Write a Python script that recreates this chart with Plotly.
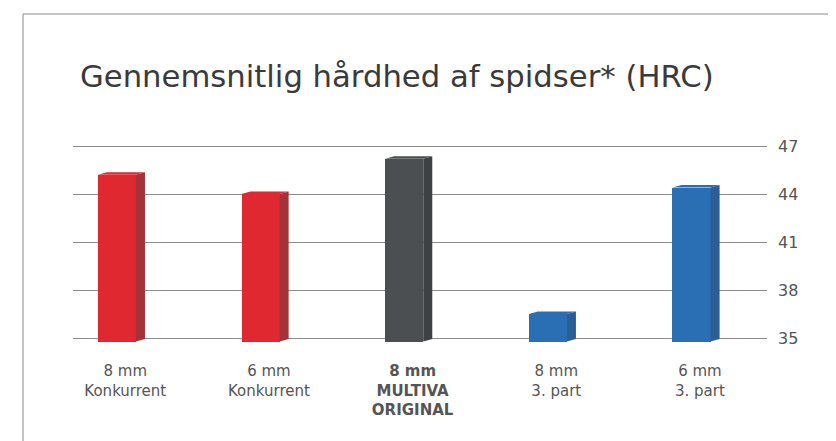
import plotly.graph_objects as go

# ---- data ----
categories = ["8 mm<br>Konkurrent", "6 mm<br>Konkurrent", "<b>8 mm<br>MULTIVA<br>ORIGINAL</b>",
              "8 mm<br>3. part", "6 mm<br>3. part"]
values = [45.2, 44.0, 46.2, 36.5, 44.4]
front_colors = ["#DF2830", "#DF2830", "#4B4F51", "#2A6EB4", "#2A6EB4"]
side_colors = ["#A4323A", "#A4323A", "#3D4143", "#2B5E95", "#2B5E95"]
y_ticks = [35, 38, 41, 44, 47]
title_text = "Gennemsnitlig hårdhed af spidser* (HRC)"

BASE = 34.78          # bars start slightly below the 35 line
FACE_W = 0.265        # front face width (category units)
FACE_SHIFT = -0.0585  # front face centre relative to category label
SIDE_W = 0.063        # 3D side depth
SIDE_RISE = 0.16      # side rises slightly (y units)

x_idx = list(range(len(categories)))

fig = go.Figure()

fig.add_trace(go.Bar(
    x=x_idx, y=[v - BASE for v in values], base=BASE,
    width=FACE_W, offset=FACE_SHIFT - FACE_W / 2,
    marker=dict(color=front_colors, line=dict(width=0)),
    hoverinfo="skip", showlegend=False,
))

for i, v in enumerate(values):
    xr = i + FACE_SHIFT + FACE_W / 2
    xl = i + FACE_SHIFT - FACE_W / 2
    fig.add_trace(go.Scatter(
        x=[xr, xr + SIDE_W, xr + SIDE_W, xr, xr],
        y=[BASE, BASE + SIDE_RISE, v + SIDE_RISE, v, BASE],
        fill="toself", fillcolor=side_colors[i], mode="lines",
        line=dict(width=0, color=side_colors[i]),
        hoverinfo="skip", showlegend=False,
    ))
    fig.add_trace(go.Scatter(
        x=[xl, xr, xr + SIDE_W, xl + SIDE_W, xl],
        y=[v, v, v + SIDE_RISE, v + SIDE_RISE, v],
        fill="toself", fillcolor=front_colors[i], mode="lines",
        line=dict(width=0, color=front_colors[i]),
        hoverinfo="skip", showlegend=False,
    ))

# page is rendered with an 8px body margin; compensate
OFF = 8
W, H = 836, 441
PL, PR, PT, PB = 73, 767, 138, 346   # target plot-area edges on the page
ML, MR, MT, MB = PL - OFF, W - (PR - OFF), PT - OFF, H - (PB - OFF)
pw, ph = W - ML - MR, H - MT - MB

def px_x(px):  # page px -> paper
    return (px - OFF - ML) / pw

def px_y(py):
    return (H - MB - (py - OFF)) / ph

FONT = "DejaVu Sans, sans-serif"

fig.update_layout(
    width=W, height=H,
    margin=dict(l=ML, r=MR, t=MT, b=MB, pad=0),
    paper_bgcolor="white", plot_bgcolor="white",
    font=dict(family=FONT, color="#555555"),
    bargap=0,
    xaxis=dict(
        range=[-0.364, 4.467], tickmode="array", tickvals=x_idx, ticktext=categories,
        showgrid=False, zeroline=False, showline=False, ticks="",
        ticklabelstandoff=14,
        tickfont=dict(size=15, color="#555555", family=FONT), fixedrange=True,
    ),
    yaxis=dict(
        range=[34.5, 47.5], side="right", tickmode="array", tickvals=y_ticks,
        showgrid=True, gridcolor="#8C8C8C", gridwidth=1, zeroline=False, showline=False,
        ticks="", ticklabelstandoff=10,
        tickfont=dict(size=16, color="#555555", family=FONT), fixedrange=True,
    ),
    shapes=[dict(
        type="rect", xref="paper", yref="paper",
        x0=px_x(23), x1=px_x(832), y0=px_y(470), y1=px_y(14),
        line=dict(color="#8A8A8A", width=1), fillcolor="rgba(0,0,0,0)", layer="below",
    )],
    annotations=[dict(
        text=title_text, xref="paper", yref="paper",
        x=px_x(78), y=px_y(96), xanchor="left", yanchor="bottom",
        showarrow=False, font=dict(size=30.7, color="#3A3A3A", family=FONT),
    )],
)

fig.write_html("out.html")
